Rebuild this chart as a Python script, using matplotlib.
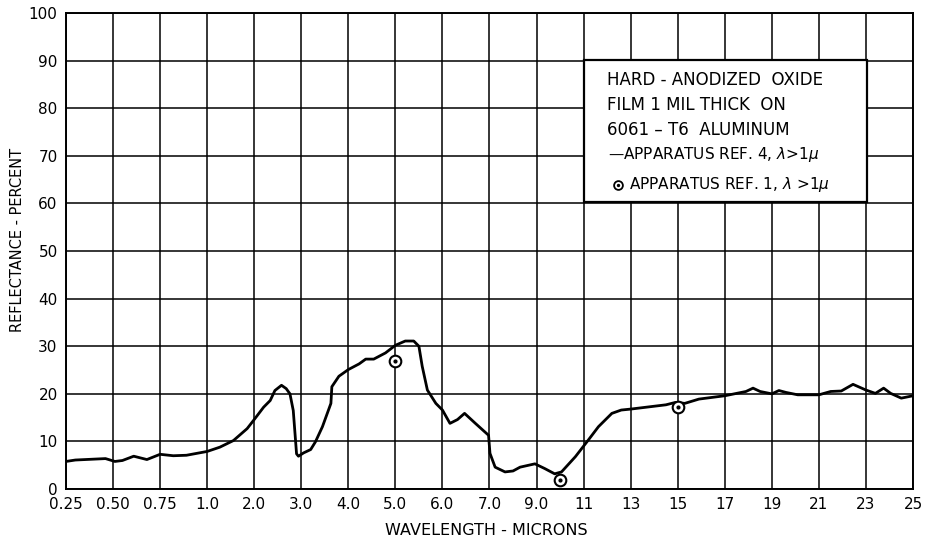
import numpy as np
import matplotlib
matplotlib.use("Agg")
import matplotlib.pyplot as plt
from matplotlib.patches import Rectangle

plt.rcParams['font.family'] = ['DejaVu Sans']

# axis tick wavelengths (equally spaced on the chart) and their printed labels
tick_waves = [0.25, 0.5, 0.75, 1.0, 2.0, 3.0, 4.0, 5.0, 6.0, 7.0, 9.0,
              11, 13, 15, 17, 19, 21, 23, 25]
tick_labels = ["0.25", "0.50", "0.75", "1.0", "2.0", "3.0", "4.0", "5.0",
               "6.0", "7.0", "9.0", "11", "13", "15", "17", "19", "21", "23", "25"]

# apparatus ref. 4 - continuous trace
wavelength = [0.25, 0.30, 0.46, 0.51, 0.55, 0.61, 0.68, 0.75, 0.82, 0.89, 1.0,
              1.27, 1.56, 1.85, 2.0, 2.2, 2.34, 2.44, 2.58, 2.68, 2.76, 2.83,
              2.90, 2.94, 3.05, 3.2, 3.3, 3.45, 3.63, 3.65, 3.8, 4.0, 4.23, 4.37,
              4.54, 4.79, 5.0, 5.21, 5.39, 5.5, 5.57, 5.68, 5.86, 6.0, 6.16, 6.32,
              6.47, 6.7, 6.98, 7.02, 7.24, 7.66, 8.0, 8.3, 8.93, 9.35, 9.77, 10.06,
              10.65, 11.2, 11.63, 12.2, 12.6, 13.0, 14.5, 14.9, 15.3, 15.9, 17.0,
              17.9, 18.2, 18.5, 19.0, 19.3, 19.6, 20.1, 21.0, 21.5, 21.95, 22.45,
              23.0, 23.4, 23.75, 24.05, 24.5, 25.0]
reflectance = [5.8, 6.1, 6.4, 5.8, 6.0, 6.9, 6.2, 7.3, 7.0, 7.1, 7.9,
               8.8, 10.2, 12.7, 14.6, 17.2, 18.6, 20.7, 21.8, 21.1, 20.0, 16.5,
               7.4, 6.9, 7.6, 8.3, 9.9, 13.1, 18.0, 21.5, 23.7, 25.1, 26.3, 27.3,
               27.3, 28.6, 30.2, 31.1, 31.1, 30.0, 25.8, 20.8, 18.0, 16.6, 13.8, 14.6,
               15.9, 13.8, 11.3, 7.5, 4.6, 3.6, 3.8, 4.6, 5.3, 4.3, 3.2, 3.6,
               6.8, 10.3, 13.1, 15.9, 16.6, 16.8, 17.7, 18.2, 18.0, 18.9, 19.6,
               20.5, 21.2, 20.5, 20.0, 20.7, 20.3, 19.8, 19.8, 20.5, 20.6, 22.0,
               20.8, 20.1, 21.2, 20.1, 19.1, 19.6]

# apparatus ref. 1 - single points
ref1_wavelength = [5.0, 10.0, 15.0]
ref1_reflectance = [26.9, 1.8, 17.2]

tick_pos = np.arange(len(tick_waves), dtype=float)


def forward(x):
    return np.interp(x, tick_waves, tick_pos)


def inverse(p):
    return np.interp(p, tick_pos, tick_waves)


fig = plt.figure(figsize=(9.33, 5.44), dpi=100)
ax = fig.add_axes([0.0707, 0.101, 0.9079, 0.875])
ax.set_xscale('function', functions=(forward, inverse))
ax.set_xlim(0.25, 25)
ax.set_ylim(0, 100)

ax.set_xticks(tick_waves)
ax.set_xticklabels(tick_labels)
ax.set_yticks(np.arange(0, 101, 10))
ax.set_yticklabels([str(v) for v in range(0, 101, 10)])
ax.minorticks_off()
ax.tick_params(length=0, pad=6, labelsize=11, colors='black')
ax.grid(True, color='black', linewidth=1.1)
ax.set_axisbelow(True)
for side in ax.spines.values():
    side.set_linewidth(1.4)

ax.plot(wavelength, reflectance, color='black', linewidth=2.0,
        solid_joinstyle='round', solid_capstyle='round', zorder=3)
ax.scatter(ref1_wavelength, ref1_reflectance, s=70, facecolors='white',
           edgecolors='black', linewidths=1.5, zorder=4)
ax.scatter(ref1_wavelength, ref1_reflectance, s=4, color='black', zorder=5)

ax.set_xlabel("WAVELENGTH - MICRONS", fontsize=11.5)
ax.xaxis.set_label_coords(0.496, -0.071)
ax.set_ylabel("REFLECTANCE - PERCENT", fontsize=10.5)
ax.yaxis.set_label_coords(-0.048, 0.523)

# caption box in the upper right
box = Rectangle((0.6116, 0.603), 0.3341, 0.298, transform=ax.transAxes,
                facecolor='white', edgecolor='black', linewidth=1.6, zorder=6)
ax.add_patch(box)
lines = ["HARD - ANODIZED  OXIDE",
         "FILM 1 MIL THICK  ON",
         "6061 – T6  ALUMINUM"]
line_y = [0.859, 0.807, 0.754]
for txt, yy in zip(lines, line_y):
    ax.text(0.639, yy, txt, transform=ax.transAxes,
            fontsize=12, va='center', ha='left', zorder=7)
ax.text(0.64, 0.702, "—APPARATUS REF. 4, $\\lambda$>1$\\mu$", transform=ax.transAxes,
        fontsize=11, va='center', ha='left', zorder=7)
ax.scatter([0.6515], [0.639], s=40, facecolors='white', edgecolors='black',
           linewidths=1.3, transform=ax.transAxes, zorder=7, clip_on=False)
ax.scatter([0.6515], [0.639], s=2, color='black', transform=ax.transAxes,
           zorder=8, clip_on=False)
ax.text(0.6645, 0.639, "APPARATUS REF. 1, $\\lambda$ >1$\\mu$", transform=ax.transAxes,
        fontsize=11, va='center', ha='left', zorder=7)

fig.savefig("out.png", dpi=100)
